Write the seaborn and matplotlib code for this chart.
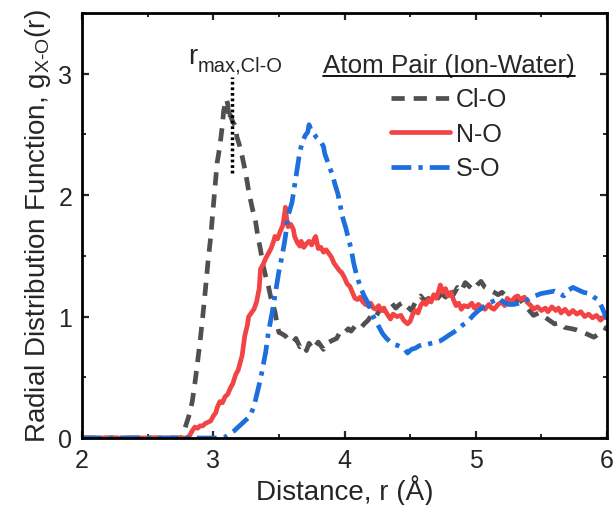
import numpy as np
import pandas as pd
import matplotlib
matplotlib.use("Agg")
import matplotlib.pyplot as plt
from matplotlib.lines import Line2D
from matplotlib.ticker import MultipleLocator
import seaborn as sns

# ---------------- data ----------------
r_clo = [2.00, 2.76, 2.79, 2.82, 2.84, 2.86, 2.88, 2.90, 2.92, 2.94, 2.96, 2.98, 3.00, 3.02,
         3.03, 3.05, 3.07, 3.08, 3.10, 3.11, 3.12, 3.13, 3.15, 3.17, 3.18, 3.20, 3.22, 3.24,
         3.26, 3.27, 3.30, 3.32, 3.34, 3.36, 3.38, 3.40, 3.42, 3.44, 3.47, 3.49, 3.50, 3.52,
         3.55, 3.58, 3.61, 3.63, 3.66, 3.69, 3.71, 3.73, 3.76, 3.78, 3.80, 3.84, 3.87, 3.90,
         3.94, 3.97, 4.00, 4.03, 4.05, 4.08, 4.12, 4.15, 4.18, 4.21, 4.24, 4.27, 4.30, 4.33,
         4.36, 4.39, 4.42, 4.45, 4.48, 4.51, 4.54, 4.58, 4.61, 4.64, 4.68, 4.71, 4.74, 4.77,
         4.80, 4.83, 4.86, 4.89, 4.92, 4.95, 4.98, 5.01, 5.04, 5.07, 5.10, 5.14, 5.17, 5.20,
         5.24, 5.27, 5.30, 5.34, 5.37, 5.40, 5.44, 5.48, 5.52, 5.56, 5.60, 5.64, 5.68, 5.73,
         5.77, 5.82, 5.86, 5.90, 5.94, 5.98, 6.00]
g_clo = [0.00, 0.00, 0.10, 0.20, 0.30, 0.45, 0.62, 0.80, 1.00, 1.22, 1.45, 1.65, 1.90, 2.15,
         2.27, 2.40, 2.58, 2.70, 2.79, 2.75, 2.62, 2.66, 2.60, 2.57, 2.48, 2.41, 2.32, 2.22,
         2.10, 2.03, 1.88, 1.80, 1.66, 1.55, 1.42, 1.33, 1.25, 1.15, 1.04, 0.92, 0.87, 0.86,
         0.84, 0.80, 0.79, 0.82, 0.75, 0.77, 0.72, 0.78, 0.73, 0.76, 0.79, 0.73, 0.78, 0.80,
         0.82, 0.88, 0.87, 0.90, 0.88, 0.92, 0.90, 0.94, 0.97, 1.02, 1.00, 1.06, 1.05, 1.08,
         1.11, 1.07, 1.10, 1.12, 1.08, 1.05, 1.12, 1.17, 1.13, 1.15, 1.12, 1.15, 1.19, 1.16,
         1.22, 1.18, 1.24, 1.21, 1.28, 1.25, 1.22, 1.26, 1.29, 1.24, 1.22, 1.20, 1.18, 1.20,
         1.16, 1.15, 1.13, 1.14, 1.09, 1.06, 1.01, 1.03, 1.00, 0.97, 0.94, 0.95, 0.91, 0.90,
         0.89, 0.87, 0.85, 0.83, 0.86, 0.88, 0.92]

r_no = [2.00, 2.80, 2.82, 2.84, 2.86, 2.88, 2.90, 2.92, 2.94, 2.96, 2.98, 3.00, 3.02, 3.03,
        3.05, 3.07, 3.09, 3.11, 3.13, 3.15, 3.17, 3.19, 3.21, 3.22, 3.23, 3.24, 3.26, 3.27,
        3.29, 3.31, 3.33, 3.35, 3.36, 3.38, 3.40, 3.42, 3.44, 3.46, 3.47, 3.49, 3.51, 3.53,
        3.54, 3.55, 3.56, 3.57, 3.59, 3.61, 3.62, 3.64, 3.66, 3.67, 3.69, 3.71, 3.73, 3.75,
        3.77, 3.78, 3.80, 3.82, 3.84, 3.86, 3.88, 3.90, 3.92, 3.94, 3.96, 3.98, 4.00, 4.02,
        4.04, 4.06, 4.08, 4.10, 4.12, 4.14, 4.16, 4.18, 4.20, 4.22, 4.24, 4.26, 4.28, 4.30,
        4.32, 4.35, 4.37, 4.40, 4.43, 4.45, 4.48, 4.50, 4.52, 4.54, 4.56, 4.58, 4.60, 4.62,
        4.64, 4.66, 4.68, 4.70, 4.72, 4.73, 4.75, 4.77, 4.79, 4.81, 4.83, 4.85, 4.87, 4.89,
        4.91, 4.94, 4.97, 4.99, 5.02, 5.04, 5.07, 5.10, 5.12, 5.14, 5.17, 5.20, 5.22, 5.24,
        5.27, 5.30, 5.32, 5.34, 5.37, 5.39, 5.42, 5.44, 5.47, 5.50, 5.53, 5.55, 5.58, 5.61,
        5.63, 5.65, 5.68, 5.71, 5.74, 5.77, 5.80, 5.83, 5.86, 5.89, 5.92, 5.95, 5.98, 6.00]
g_no = [0.00, 0.00, 0.02, 0.06, 0.09, 0.08, 0.10, 0.10, 0.12, 0.13, 0.14, 0.18, 0.21, 0.25,
        0.30, 0.29, 0.34, 0.36, 0.41, 0.45, 0.52, 0.56, 0.64, 0.68, 0.76, 0.84, 0.93, 1.00,
        1.03, 1.06, 1.12, 1.23, 1.39, 1.43, 1.48, 1.52, 1.56, 1.62, 1.66, 1.64, 1.70, 1.75,
        1.82, 1.90, 1.80, 1.74, 1.76, 1.72, 1.66, 1.61, 1.58, 1.62, 1.57, 1.60, 1.62, 1.59,
        1.64, 1.66, 1.56, 1.57, 1.53, 1.55, 1.52, 1.49, 1.44, 1.41, 1.38, 1.36, 1.32, 1.27,
        1.25, 1.20, 1.15, 1.14, 1.16, 1.12, 1.10, 1.09, 1.11, 1.07, 1.06, 1.09, 1.05, 1.07,
        1.03, 0.98, 1.02, 1.00, 1.01, 0.97, 0.94, 0.96, 1.02, 1.05, 1.03, 1.09, 1.12, 1.10,
        1.14, 1.12, 1.18, 1.15, 1.22, 1.26, 1.20, 1.23, 1.17, 1.20, 1.14, 1.09, 1.11, 1.06,
        1.09, 1.08, 1.11, 1.07, 1.10, 1.08, 1.06, 1.10, 1.07, 1.06, 1.10, 1.12, 1.09, 1.15,
        1.12, 1.16, 1.17, 1.14, 1.16, 1.12, 1.09, 1.06, 1.08, 1.05, 1.07, 1.04, 1.08, 1.05,
        1.07, 1.03, 1.06, 1.02, 1.05, 1.02, 1.04, 1.00, 1.02, 0.99, 1.01, 0.97, 1.00, 0.99]

r_so = [2.00, 3.08, 3.12, 3.16, 3.20, 3.24, 3.28, 3.31, 3.33, 3.35, 3.37, 3.40, 3.42, 3.45,
        3.47, 3.50, 3.53, 3.55, 3.57, 3.60, 3.62, 3.64, 3.66, 3.68, 3.70, 3.72, 3.73, 3.75,
        3.77, 3.79, 3.82, 3.84, 3.85, 3.87, 3.89, 3.91, 3.93, 3.95, 3.97, 3.99, 4.01, 4.03,
        4.05, 4.07, 4.09, 4.11, 4.13, 4.15, 4.18, 4.20, 4.22, 4.25, 4.27, 4.29, 4.32, 4.35,
        4.38, 4.41, 4.43, 4.46, 4.48, 4.51, 4.54, 4.57, 4.60, 4.63, 4.66, 4.70, 4.73, 4.76,
        4.80, 4.83, 4.87, 4.90, 4.94, 4.98, 5.02, 5.06, 5.10, 5.14, 5.18, 5.21, 5.25, 5.29,
        5.33, 5.37, 5.41, 5.45, 5.50, 5.55, 5.60, 5.64, 5.67, 5.71, 5.74, 5.78, 5.82, 5.86,
        5.90, 5.93, 5.96, 5.98, 6.00]
g_so = [0.00, 0.00, 0.03, 0.06, 0.10, 0.14, 0.18, 0.26, 0.35, 0.44, 0.54, 0.71, 0.87, 1.04,
        1.17, 1.37, 1.53, 1.66, 1.83, 1.94, 2.08, 2.22, 2.36, 2.44, 2.49, 2.52, 2.58, 2.52,
        2.50, 2.47, 2.44, 2.40, 2.34, 2.28, 2.22, 2.16, 2.08, 2.01, 1.90, 1.80, 1.73, 1.64,
        1.56, 1.44, 1.35, 1.28, 1.22, 1.17, 1.11, 1.05, 1.00, 0.94, 0.90, 0.86, 0.82, 0.79,
        0.77, 0.76, 0.75, 0.73, 0.70, 0.73, 0.74, 0.76, 0.77, 0.77, 0.78, 0.79, 0.80, 0.82,
        0.85, 0.87, 0.90, 0.93, 0.96, 1.01, 1.05, 1.08, 1.11, 1.13, 1.15, 1.12, 1.10, 1.10,
        1.11, 1.12, 1.15, 1.17, 1.19, 1.20, 1.21, 1.19, 1.17, 1.22, 1.24, 1.22, 1.20, 1.19,
        1.16, 1.14, 1.08, 1.03, 0.98]

pair_labels = ["Cl-O", "N-O", "S-O"]
legend_title = "Atom Pair (Ion-Water)"
x_ticks = [2, 3, 4, 5, 6]
y_ticks = [0, 1, 2, 3]
rmax_clo = 3.14
rmax_line_y = [2.18, 2.97]

# ---------------- style ----------------
sns.set_style("ticks")
plt.rcParams["font.family"] = ["Liberation Sans", "DejaVu Sans"]
plt.rcParams["mathtext.fontset"] = "custom"
plt.rcParams["mathtext.rm"] = "Liberation Sans"
plt.rcParams["mathtext.it"] = "Liberation Sans:italic"

fig = plt.figure(figsize=(6.16, 5.06), dpi=100)
ax = fig.add_axes([82 / 616, 1 - 439 / 506, (607 - 82) / 616, (439 - 14) / 506])

c_gray = "#505050"
c_red = "#F24444"
c_blue = "#1C6FDC"
lw = 3.4

sns.lineplot(x=r_clo, y=g_clo, ax=ax, color=c_gray, linewidth=lw,
             linestyle=(0, (2.8, 1.9)), label=pair_labels[0], sort=False, estimator=None)
sns.lineplot(x=r_no, y=g_no, ax=ax, color=c_red, linewidth=lw,
             linestyle="-", label=pair_labels[1], sort=False, estimator=None)
sns.lineplot(x=r_so, y=g_so, ax=ax, color=c_blue, linewidth=lw,
             linestyle=(0, (4.2, 1.5, 0.9, 1.5)), label=pair_labels[2], sort=False,
             estimator=None)

# r_max marker
ax.plot([rmax_clo, rmax_clo], rmax_line_y, color="black", linestyle=(0, (0.8, 0.8)),
        linewidth=2.5)
ax.text(2.805, 3.09, "r", fontsize=20, ha="left", va="baseline")
ax.text(2.88, 3.03, "max,Cl-O", fontsize=14.5, ha="left", va="baseline")

ax.set_xlim(2, 6)
ax.set_ylim(0, 3.5)
ax.set_xticks(x_ticks)
ax.set_yticks(y_ticks)
ax.xaxis.set_minor_locator(MultipleLocator(0.5))
ax.yaxis.set_minor_locator(MultipleLocator(0.5))
ax.tick_params(which="both", direction="in", top=True, right=True, labelsize=18)
ax.tick_params(which="major", length=5, width=1.6, pad=7)
ax.tick_params(which="minor", length=3, width=1.4)
for s in ax.spines.values():
    s.set_linewidth(2.0)
    s.set_color("black")

ax.set_xlabel("Distance, r (Å)", fontsize=20, labelpad=2)
ax.set_ylabel(r"Radial Distribution Function, g$_{\mathrm{X\text{-}O}}$(r)", fontsize=20,
              labelpad=4)

leg = ax.legend(title=legend_title, loc="upper right", bbox_to_anchor=(0.958, 0.93),
                frameon=False, fontsize=18, title_fontsize=18.7, handlelength=2.35,
                handletextpad=0.25, labelspacing=0.42, borderaxespad=0)

# underline the legend title
fig.canvas.draw()
bb = leg.get_title().get_window_extent(fig.canvas.get_renderer())
inv = fig.transFigure.inverted()
(x0, y0), (x1, y1) = inv.transform([[bb.x0, bb.y0], [bb.x1, bb.y1]])
fig.add_artist(Line2D([x0, x1], [y0 + 0.002, y0 + 0.002], color="black", linewidth=1.3))

fig.savefig("out.png", dpi=100)
